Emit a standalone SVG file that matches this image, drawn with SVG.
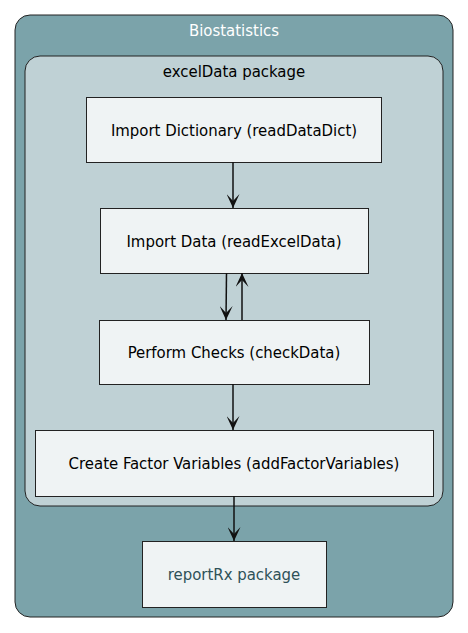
<svg xmlns="http://www.w3.org/2000/svg" width="468" height="633" viewBox="0 0 468 633">
<style>
text{font-family:"DejaVu Sans Condensed","DejaVu Sans",sans-serif;font-stretch:condensed;font-size:16.6px;text-anchor:middle;fill:#000}
.box{fill:#eff3f4;stroke:#222;stroke-width:1}
.edge{stroke:#111;stroke-width:1.5;fill:none}
</style>
<defs>
<marker id="ah" viewBox="0 0 15 13" refX="15" refY="6.5" markerWidth="15" markerHeight="13" markerUnits="userSpaceOnUse" orient="auto">
<path d="M1,0 L15,6.5 L1,13 L8,6.5 Z" fill="#111"/>
</marker>
</defs>
<g id="biostatistics">
<rect x="15" y="15" width="438" height="602" rx="15" fill="#7ba3aa" stroke="#222" stroke-width="1"/>
<text x="234" y="36" style="fill:#fff">Biostatistics</text>
</g>
<g id="exceldata">
<rect x="25" y="56" width="418" height="450" rx="15" fill="#bfd1d5" stroke="#222" stroke-width="1"/>
<text x="234" y="77">excelData package</text>
</g>
<g id="n1"><rect class="box" x="86.5" y="97.5" width="295" height="65"/><text x="234" y="136">Import Dictionary (readDataDict)</text></g>
<g id="n2"><rect class="box" x="100.5" y="208.5" width="268" height="65"/><text x="234" y="247">Import Data (readExcelData)</text></g>
<g id="n3"><rect class="box" x="99.5" y="320.5" width="270" height="64"/><text x="234" y="358">Perform Checks (checkData)</text></g>
<g id="n4"><rect class="box" x="35.5" y="430.5" width="398" height="66"/><text x="234" y="469">Create Factor Variables (addFactorVariables)</text></g>
<g id="n5"><rect class="box" x="142.5" y="541.5" width="184" height="66"/><text x="234" y="580" style="fill:#2e5158">reportRx package</text></g>
<g id="connectors">
<path class="edge" d="M233,162 L233,208" marker-end="url(#ah)"/>
<path class="edge" d="M226.5,273 L226,320" marker-end="url(#ah)"/>
<path class="edge" d="M242,320 L242,273" marker-end="url(#ah)"/>
<path class="edge" d="M233,384 L233,430" marker-end="url(#ah)"/>
<path class="edge" d="M234,496 L234,541" marker-end="url(#ah)"/>
</g>
</svg>
